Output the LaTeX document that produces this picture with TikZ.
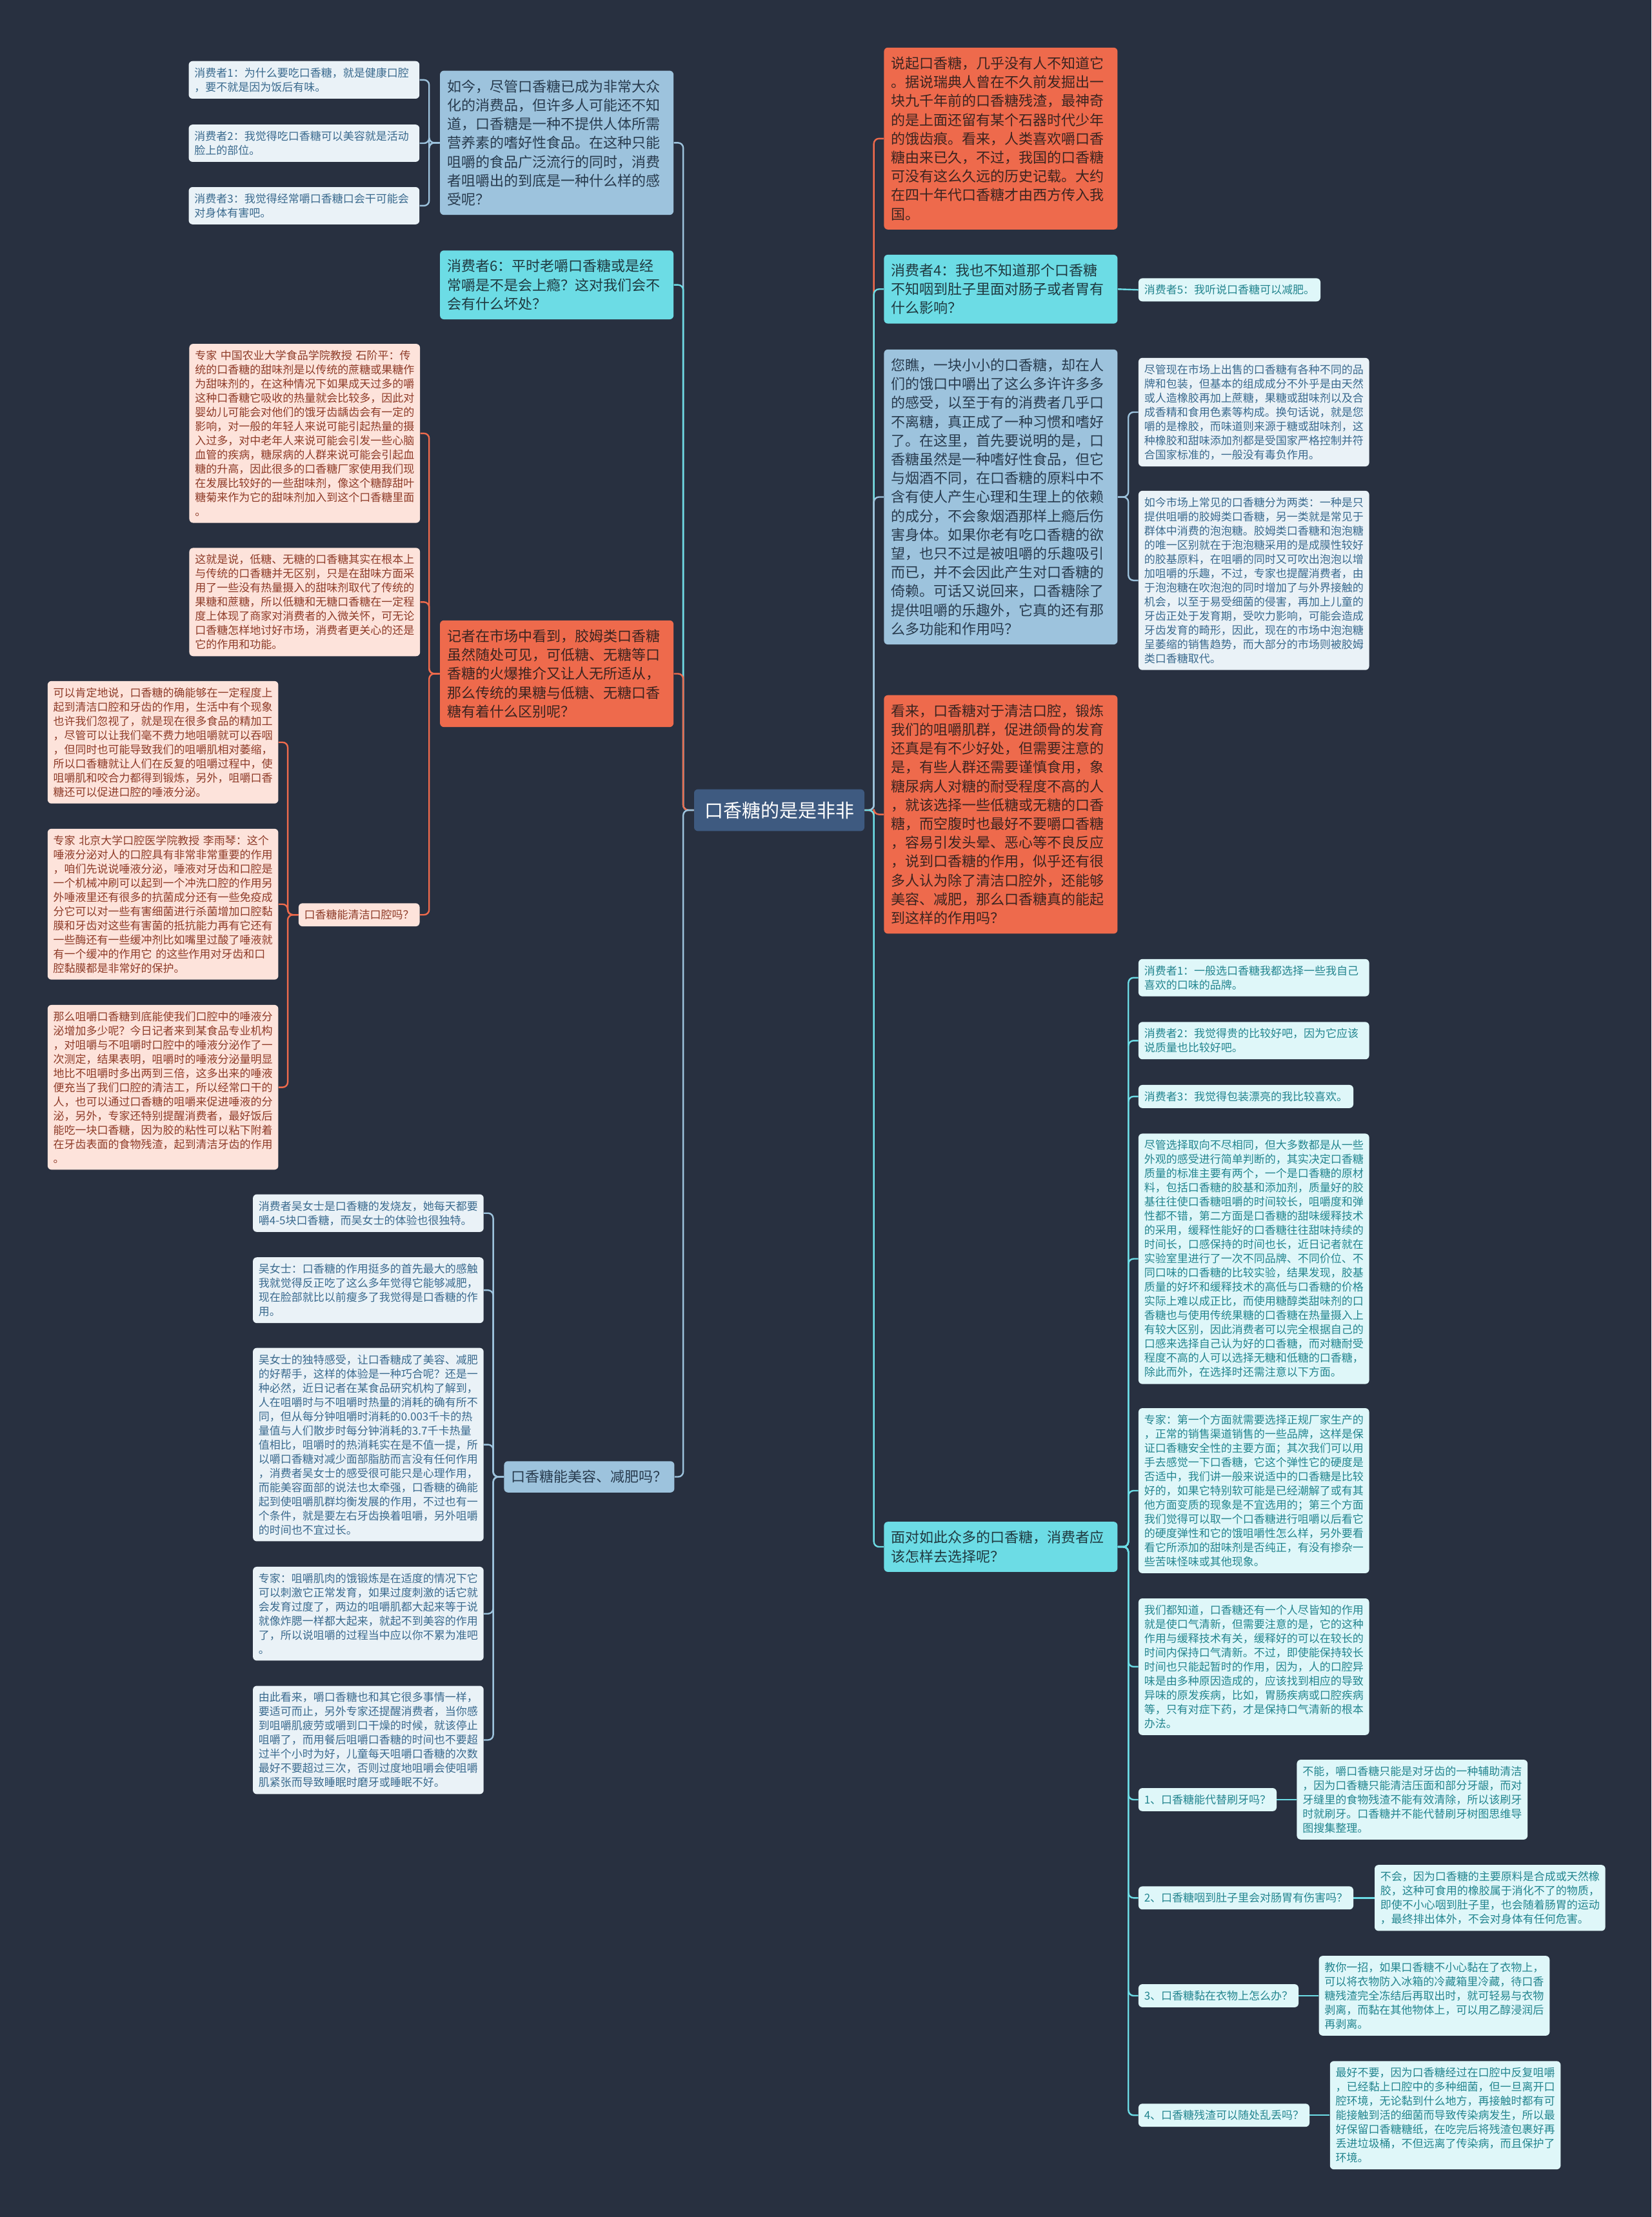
\documentclass[tikz,border=0pt]{standalone}
\usepackage{fontspec}
\setmainfont{Noto Sans CJK SC}
\usepackage{tikz}
\usetikzlibrary{positioning}

\definecolor{bgdark}{HTML}{283040}
\definecolor{rootfill}{HTML}{3E5A80}
\definecolor{orgfill}{HTML}{EE6A4C}
\definecolor{orgtext}{HTML}{3B2420}
\definecolor{orgleaf}{HTML}{FDE3DB}
\definecolor{orgleaftext}{HTML}{8E3B28}
\definecolor{cyanfill}{HTML}{6CDCE5}
\definecolor{cyantext}{HTML}{1F3940}
\definecolor{cyanleaf}{HTML}{DFF7F9}
\definecolor{cyanleaftext}{HTML}{23858F}
\definecolor{steelfill}{HTML}{9DC3DD}
\definecolor{steeltext}{HTML}{283B4E}
\definecolor{steelleaf}{HTML}{EAF2F7}
\definecolor{steelleaftext}{HTML}{3A6A8E}

\begin{document}
\begin{tikzpicture}[
    x=1.0959pt, y=-1.0959pt,
    base/.style={rounded corners=3pt, align=left, anchor=west},
    topic/.style={base, inner xsep=5.5pt, inner ysep=7pt, font=\fontsize{11}{14.6}\selectfont},
    wide/.style={topic, text width=170pt},
    leaf/.style={base, inner xsep=4.4pt, inner ysep=5pt, font=\fontsize{8.5}{11}\selectfont},
    note/.style={leaf, text width=170pt},
    rootbox/.style={base, fill=rootfill, text=white, inner xsep=8pt, inner ysep=9.5pt, font=\fontsize{14.5}{17}\selectfont},
    orgtopic/.style={fill=orgfill, text=orgtext},
    cyantopic/.style={fill=cyanfill, text=cyantext},
    steeltopic/.style={fill=steelfill, text=steeltext},
    orgsub/.style={fill=orgleaf, text=orgleaftext},
    cyansub/.style={fill=cyanleaf, text=cyanleaftext},
    steelsub/.style={fill=steelleaf, text=steelleaftext},
    link/.style={line width=1.2pt, rounded corners=4pt}
]
    \useasboundingbox (0,0) rectangle (1168,1568);
    \fill[bgdark] (0,0) rectangle (1168,1568);

    % centre
    \node[rootbox] (root) at (490.7,573) {口香糖的是是非非};

    % left side
    \node[wide, steeltopic] (l1) at (311,101) {如今，尽管口香糖已成为非常大众\\化的消费品，但许多人可能还不知\\道，口香糖是一种不提供人体所需\\营养素的嗜好性食品。在这种只能\\咀嚼的食品广泛流行的同时，消费\\者咀嚼出的到底是一种什么样的感\\受呢？};
    \node[note, steelsub] (l1a) at (133.3,56.5) {消费者1：为什么要吃口香糖，就是健康口腔\\，要不就是因为饭后有味。};
    \node[note, steelsub] (l1b) at (133.3,101.3) {消费者2：我觉得吃口香糖可以美容就是活动\\脸上的部位。};
    \node[note, steelsub] (l1c) at (133.3,145.5) {消费者3：我觉得经常嚼口香糖口会干可能会\\对身体有害吧。};

    \node[wide, cyantopic] (l2) at (311,201.5) {消费者6：平时老嚼口香糖或是经\\常嚼是不是会上瘾？这对我们会不\\会有什么坏处？};

    \node[wide, orgtopic] (l3) at (311,476.5) {记者在市场中看到，胶姆类口香糖\\虽然随处可见，可低糖、无糖等口\\香糖的火爆推介又让人无所适从，\\那么传统的果糖与低糖、无糖口香\\糖有着什么区别呢？};
    \node[note, orgsub] (s1) at (133.7,306.5) {专家 中国农业大学食品学院教授 石阶平：传\\统的口香糖的甜味剂是以传统的蔗糖或果糖作\\为甜味剂的，在这种情况下如果成天过多的嚼\\这种口香糖它吸收的热量就会比较多，因此对\\婴幼儿可能会对他们的饿牙齿龋齿会有一定的\\影响，对一般的年轻人来说可能引起热量的摄\\入过多，对中老年人来说可能会引发一些心脑\\血管的疾病，糖尿病的人群来说可能会引起血\\糖的升高，因此很多的口香糖厂家使用我们现\\在发展比较好的一些甜味剂，像这个糖醇甜叶\\糖菊来作为它的甜味剂加入到这个口香糖里面\\。};
    \node[note, orgsub] (s2) at (133.7,425.8) {这就是说，低糖、无糖的口香糖其实在根本上\\与传统的口香糖并无区别，只是在甜味方面采\\用了一些没有热量摄入的甜味剂取代了传统的\\果糖和蔗糖，所以低糖和无糖口香糖在一定程\\度上体现了商家对消费者的入微关怀，可无论\\口香糖怎样地讨好市场，消费者更关心的还是\\它的作用和功能。};
    \node[leaf, orgsub] (s3) at (211,647) {口香糖能清洁口腔吗？};
    \node[note, orgsub] (c1) at (33.5,525) {可以肯定地说，口香糖的确能够在一定程度上\\起到清洁口腔和牙齿的作用，生活中有个现象\\也许我们忽视了，就是现在很多食品的精加工\\，尽管可以让我们毫不费力地咀嚼就可以吞咽\\，但同时也可能导致我们的咀嚼肌相对萎缩，\\所以口香糖就让人们在反复的咀嚼过程中，使\\咀嚼肌和咬合力都得到锻炼，另外，咀嚼口香\\糖还可以促进口腔的唾液分泌。};
    \node[note, orgsub] (c2) at (33.5,639.5) {专家 北京大学口腔医学院教授 李雨琴：这个\\唾液分泌对人的口腔具有非常非常重要的作用\\，咱们先说说唾液分泌，唾液对牙齿和口腔是\\一个机械冲刷可以起到一个冲洗口腔的作用另\\外唾液里还有很多的抗菌成分还有一些免疫成\\分它可以对一些有害细菌进行杀菌增加口腔黏\\膜和牙齿对这些有害菌的抵抗能力再有它还有\\一些酶还有一些缓冲剂比如嘴里过酸了唾液就\\有一个缓冲的作用它 的这些作用对牙齿和口\\腔黏膜都是非常好的保护。};
    \node[note, orgsub] (c3) at (33.5,769) {那么咀嚼口香糖到底能使我们口腔中的唾液分\\泌增加多少呢？今日记者来到某食品专业机构\\，对咀嚼与不咀嚼时口腔中的唾液分泌作了一\\次测定，结果表明，咀嚼时的唾液分泌量明显\\地比不咀嚼时多出两到三倍，这多出来的唾液\\便充当了我们口腔的清洁工，所以经常口干的\\人，也可以通过口香糖的咀嚼来促进唾液的分\\泌，另外，专家还特别提醒消费者，最好饭后\\能吃一块口香糖，因为胶的粘性可以粘下附着\\在牙齿表面的食物残渣，起到清洁牙齿的作用\\。};

    \node[topic, steeltopic] (l4) at (356.3,1044.5) {口香糖能美容、减肥吗？};
    \node[note, steelsub] (w1) at (178.7,858) {消费者吴女士是口香糖的发烧友，她每天都要\\嚼4-5块口香糖，而吴女士的体验也很独特。};
    \node[note, steelsub] (w2) at (178.7,912.5) {吴女士：口香糖的作用挺多的首先最大的感触\\我就觉得反正吃了这么多年觉得它能够减肥，\\现在脸部就比以前瘦多了我觉得是口香糖的作\\用。};
    \node[note, steelsub] (w3) at (178.7,1021.7) {吴女士的独特感受，让口香糖成了美容、减肥\\的好帮手，这样的体验是一种巧合呢？还是一\\种必然，近日记者在某食品研究机构了解到，\\人在咀嚼时与不咀嚼时热量的消耗的确有所不\\同，但从每分钟咀嚼时消耗的0.003千卡的热\\量值与人们散步时每分钟消耗的3.7千卡热量\\值相比，咀嚼时的热消耗实在是不值一提，所\\以嚼口香糖对减少面部脂肪而言没有任何作用\\，消费者吴女士的感受很可能只是心理作用，\\而能美容面部的说法也太牵强，口香糖的确能\\起到使咀嚼肌群均衡发展的作用，不过也有一\\个条件，就是要左右牙齿换着咀嚼，另外咀嚼\\的时间也不宜过长。};
    \node[note, steelsub] (w4) at (178.7,1141.3) {专家：咀嚼肌肉的饿锻炼是在适度的情况下它\\可以刺激它正常发育，如果过度刺激的话它就\\会发育过度了，两边的咀嚼肌都大起来等于说\\就像炸腮一样都大起来，就起不到美容的作用\\了，所以说咀嚼的过程当中应以你不累为准吧\\。};
    \node[note, steelsub] (w5) at (178.7,1230.6) {由此看来，嚼口香糖也和其它很多事情一样，\\要适可而止，另外专家还提醒消费者，当你感\\到咀嚼肌疲劳或嚼到口干燥的时候，就该停止\\咀嚼了，而用餐后咀嚼口香糖的时间也不要超\\过半个小时为好，儿童每天咀嚼口香糖的次数\\最好不要超过三次，否则过度地咀嚼会使咀嚼\\肌紧张而导致睡眠时磨牙或睡眠不好。};

    % right side
    \node[wide, orgtopic] (r1) at (625,98) {说起口香糖，几乎没有人不知道它\\。据说瑞典人曾在不久前发掘出一\\块九千年前的口香糖残渣，最神奇\\的是上面还留有某个石器时代少年\\的饿齿痕。看来，人类喜欢嚼口香\\糖由来已久，不过，我国的口香糖\\可没有这么久远的历史记载。大约\\在四十年代口香糖才由西方传入我\\国。};

    \node[wide, cyantopic] (r2) at (625,204.5) {消费者4：我也不知道那个口香糖\\不知咽到肚子里面对肠子或者胃有\\什么影响？};
    \node[leaf, cyansub] (r2a) at (805,205) {消费者5：我听说口香糖可以减肥。};

    \node[wide, steeltopic] (r3) at (625,351.5) {您瞧，一块小小的口香糖，却在人\\们的饿口中嚼出了这么多许许多多\\的感受，以至于有的消费者几乎口\\不离糖，真正成了一种习惯和嗜好\\了。在这里，首先要说明的是，口\\香糖虽然是一种嗜好性食品，但它\\与烟酒不同，在口香糖的原料中不\\含有使人产生心理和生理上的依赖\\的成分，不会象烟酒那样上瘾后伤\\害身体。如果你老有吃口香糖的欲\\望，也只不过是被咀嚼的乐趣吸引\\而已，并不会因此产生对口香糖的\\倚赖。可话又说回来，口香糖除了\\提供咀嚼的乐趣外，它真的还有那\\么多功能和作用吗？};
    \node[note, steelsub] (t1) at (805,291.5) {尽管现在市场上出售的口香糖有各种不同的品\\牌和包装，但基本的组成成分不外乎是由天然\\或人造橡胶再加上蔗糖，果糖或甜味剂以及合\\成香精和食用色素等构成。换句话说，就是您\\嚼的是橡胶，而味道则来源于糖或甜味剂，这\\种橡胶和甜味添加剂都是受国家严格控制并符\\合国家标准的，一般没有毒负作用。};
    \node[note, steelsub] (t2) at (805,410.5) {如今市场上常见的口香糖分为两类：一种是只\\提供咀嚼的胶姆类口香糖，另一类就是常见于\\群体中消费的泡泡糖。胶姆类口香糖和泡泡糖\\的唯一区别就在于泡泡糖采用的是成膜性较好\\的胶基原料，在咀嚼的同时又可吹出泡泡以增\\加咀嚼的乐趣，不过，专家也提醒消费者，由\\于泡泡糖在吹泡泡的同时增加了与外界接触的\\机会，以至于易受细菌的侵害，再加上儿童的\\牙齿正处于发育期，受吹力影响，可能会造成\\牙齿发育的畸形，因此，现在的市场中泡泡糖\\呈萎缩的销售趋势，而大部分的市场则被胶姆\\类口香糖取代。};

    \node[wide, orgtopic] (r4) at (625,576) {看来，口香糖对于清洁口腔，锻炼\\我们的咀嚼肌群，促进颌骨的发育\\还真是有不少好处，但需要注意的\\是，有些人群还需要谨慎食用，象\\糖尿病人对糖的耐受程度不高的人\\，就该选择一些低糖或无糖的口香\\糖，而空腹时也最好不要嚼口香糖\\，容易引发头晕、恶心等不良反应\\，说到口香糖的作用，似乎还有很\\多人认为除了清洁口腔外，还能够\\美容、减肥，那么口香糖真的能起\\到这样的作用吗？};

    \node[wide, cyantopic] (r5) at (625,1094) {面对如此众多的口香糖，消费者应\\该怎样去选择呢？};
    \node[note, cyansub] (p1) at (805,691.5) {消费者1：一般选口香糖我都选择一些我自己\\喜欢的口味的品牌。};
    \node[note, cyansub] (p2) at (805,736) {消费者2：我觉得贵的比较好吧，因为它应该\\说质量也比较好吧。};
    \node[leaf, cyansub] (p3) at (805,775.5) {消费者3：我觉得包装漂亮的我比较喜欢。};
    \node[note, cyansub] (p4) at (805,890.3) {尽管选择取向不尽相同，但大多数都是从一些\\外观的感受进行简单判断的，其实决定口香糖\\质量的标准主要有两个，一个是口香糖的原材\\料，包括口香糖的胶基和添加剂，质量好的胶\\基往往使口香糖咀嚼的时间较长，咀嚼度和弹\\性都不错，第二方面是口香糖的甜味缓释技术\\的采用，缓释性能好的口香糖往往甜味持续的\\时间长，口感保持的时间也长，近日记者就在\\实验室里进行了一次不同品牌、不同价位、不\\同口味的口香糖的比较实验，结果发现，胶基\\质量的好坏和缓释技术的高低与口香糖的价格\\实际上难以成正比，而使用糖醇类甜味剂的口\\香糖也与使用传统果糖的口香糖在热量摄入上\\有较大区别，因此消费者可以完全根据自己的\\口感来选择自己认为好的口香糖，而对糖耐受\\程度不高的人可以选择无糖和低糖的口香糖，\\除此而外，在选择时还需注意以下方面。};
    \node[note, cyansub] (p5) at (805,1054.3) {专家：第一个方面就需要选择正规厂家生产的\\，正常的销售渠道销售的一些品牌，这样是保\\证口香糖安全性的主要方面；其次我们可以用\\手去感觉一下口香糖，它这个弹性它的硬度是\\否适中，我们讲一般来说适中的口香糖是比较\\好的，如果它特别软可能是已经潮解了或有其\\他方面变质的现象是不宜选用的；第三个方面\\我们觉得可以取一个口香糖进行咀嚼以后看它\\的硬度弹性和它的饿咀嚼性怎么样，另外要看\\看它所添加的甜味剂是否纯正，有没有掺杂一\\些苦味怪味或其他现象。};
    \node[note, cyansub] (p6) at (805,1178.8) {我们都知道，口香糖还有一个人尽皆知的作用\\就是使口气清新，但需要注意的是，它的这种\\作用与缓释技术有关，缓释好的可以在较长的\\时间内保持口气清新。不过，即使能保持较长\\时间也只能起暂时的作用，因为，人的口腔异\\味是由多种原因造成的，应该找到相应的导致\\异味的原发疾病，比如，胃肠疾病或口腔疾病\\等，只有对症下药，才是保持口气清新的根本\\办法。};

    \node[leaf, cyansub] (q1) at (805,1272.8) {1、口香糖能代替刷牙吗？};
    \node[note, cyansub] (a1) at (917,1272.8) {不能，嚼口香糖只能是对牙齿的一种辅助清洁\\，因为口香糖只能清洁压面和部分牙龈，而对\\牙缝里的食物残渣不能有效清除，所以该刷牙\\时就刷牙。口香糖并不能代替刷牙树图思维导\\图搜集整理。};
    \node[leaf, cyansub] (q2) at (805,1342.3) {2、口香糖咽到肚子里会对肠胃有伤害吗？};
    \node[note, cyansub] (a2) at (972,1342.3) {不会，因为口香糖的主要原料是合成或天然橡\\胶，这种可食用的橡胶属于消化不了的物质，\\即使不小心咽到肚子里，也会随着肠胃的运动\\，最终排出体外，不会对身体有任何危害。};
    \node[leaf, cyansub] (q3) at (805,1411.5) {3、口香糖黏在衣物上怎么办？};
    \node[note, cyansub] (a3) at (932.6,1411.5) {教你一招，如果口香糖不小心黏在了衣物上，\\可以将衣物防入冰箱的冷藏箱里冷藏，待口香\\糖残渣完全冻结后再取出时，就可轻易与衣物\\剥离，而黏在其他物体上，可以用乙醇浸润后\\再剥离。};
    \node[leaf, cyansub] (q4) at (805,1496) {4、口香糖残渣可以随处乱丢吗？};
    \node[note, cyansub] (a4) at (940.4,1496) {最好不要，因为口香糖经过在口腔中反复咀嚼\\，已经黏上口腔中的多种细菌，但一旦离开口\\腔环境，无论黏到什么地方，再接触时都有可\\能接触到活的细菌而导致传染病发生，所以最\\好保留口香糖糖纸，在吃完后将残渣包裹好再\\丢进垃圾桶，不但远离了传染病，而且保护了\\环境。};

    % connectors from the centre
    \draw[link, steelfill] (root.west) -- ++(-7.5,0) |- (l1.east);
    \draw[link, cyanfill] (root.west) -- ++(-7.5,0) |- (l2.east);
    \draw[link, orgfill] (root.west) -- ++(-7.5,0) |- (l3.east);
    \draw[link, steelfill] (root.west) -- ++(-7.5,0) |- (l4.east);
    \draw[link, orgfill] (root.east) -- ++(6.5,0) |- (r1.west);
    \draw[link, cyanfill] (root.east) -- ++(6.5,0) |- (r2.west);
    \draw[link, steelfill] (root.east) -- ++(6.5,0) |- (r3.west);
    \draw[link, orgfill] (root.east) -- ++(6.5,0) |- (r4.west);
    \draw[link, cyanfill] (root.east) -- ++(6.5,0) |- (r5.west);

    % second level, left
    \foreach \c in {l1a,l1b,l1c}
        \draw[link, steelfill] (l1.west) -- ++(-7.5,0) |- (\c.east);
    \foreach \c in {s1,s2,s3}
        \draw[link, orgfill] (l3.west) -- ++(-7.5,0) |- (\c.east);
    \foreach \c in {c1,c2,c3}
        \draw[link, orgfill] (s3.west) -- ++(-7.5,0) |- (\c.east);
    \foreach \c in {w1,w2,w3,w4,w5}
        \draw[link, steelfill] (l4.west) -- ++(-7.5,0) |- (\c.east);

    % second level, right
    \draw[link, cyanfill] (r2.east) -- (r2a.west);
    \foreach \c in {t1,t2}
        \draw[link, steelfill] (r3.east) -- ++(7.5,0) |- (\c.west);
    \foreach \c in {p1,p2,p3,p4,p5,p6,q1,q2,q3,q4}
        \draw[link, cyanfill] (r5.east) -- ++(7.5,0) |- (\c.west);
    \foreach \i in {1,2,3,4}
        \draw[link, cyanfill] (q\i.east) -- (a\i.west);
\end{tikzpicture}
\end{document}
